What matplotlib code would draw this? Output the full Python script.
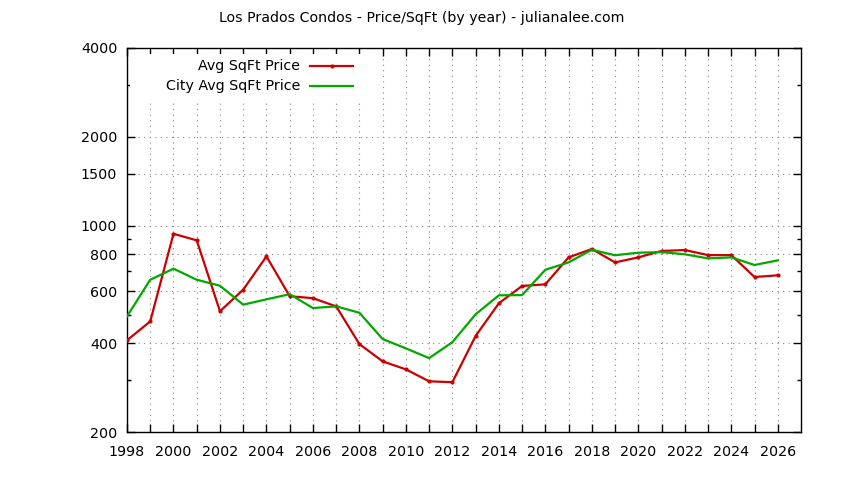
import matplotlib
matplotlib.use('Agg')
import matplotlib.pyplot as plt
from matplotlib.ticker import FixedLocator, NullFormatter, FixedFormatter
from matplotlib.patches import Rectangle

# Dados
anos = list(range(1998, 2027))
preco_medio = [409, 474, 939, 892, 513, 607, 787, 577, 568, 533, 397, 347, 326, 297,
               295, 423, 546, 625, 633, 781, 834, 751, 781, 821, 827, 795, 795, 670, 679]
preco_cidade = [493, 656, 715, 656, 626, 540, 563, 586, 526, 533, 507, 413, 384, 356,
                403, 501, 581, 582, 709, 751, 829, 794, 810, 814, 800, 775, 781, 736, 763]

y_ticks = [200, 400, 600, 800, 1000, 1500, 2000, 4000]
y_minor = [300, 500, 700, 900, 3000]
x_ticks = list(range(1998, 2027, 2))

vermelho = '#cc0000'
verde = '#00a800'

plt.rcParams['font.family'] = 'DejaVu Sans'
plt.rcParams['font.size'] = 10

fig = plt.figure(figsize=(8.44, 4.8), dpi=100)
ax = fig.add_axes([127 / 844, 48 / 480, 674 / 844, 384 / 480])

ax.plot(anos, preco_medio, color=vermelho, lw=1.6, marker='o', ms=2, zorder=3)
ax.plot(anos, preco_cidade, color=verde, lw=1.6, zorder=3)

ax.set_yscale('log')
ax.set_ylim(200, 4000)
ax.set_xlim(1998, 2027)

ax.yaxis.set_major_locator(FixedLocator(y_ticks))
ax.yaxis.set_major_formatter(FixedFormatter([str(v) for v in y_ticks]))
ax.yaxis.set_minor_locator(FixedLocator(y_minor))
ax.yaxis.set_minor_formatter(NullFormatter())
ax.xaxis.set_major_locator(FixedLocator(x_ticks))
ax.xaxis.set_major_formatter(FixedFormatter([str(v) for v in x_ticks]))
ax.xaxis.set_minor_locator(FixedLocator(anos))

ax.tick_params(which='both', direction='in', top=True, right=True, width=1, color='black')
ax.tick_params(axis='x', which='both', length=5.8, pad=9)
ax.tick_params(axis='y', which='major', length=5.8, pad=7)
ax.tick_params(axis='y', which='minor', length=2.9)
ax.tick_params(labelsize=10.3)

ax.grid(True, axis='x', which='both', linestyle=(0, (1, 4)), color='#888888', lw=0.8)
ax.grid(True, axis='y', which='major', linestyle=(0, (1, 4)), color='#888888', lw=0.8)

for s in ax.spines.values():
    s.set_linewidth(1.0)

# Legenda estilo gnuplot (texto alinhado à direita, fundo opaco)
ax.add_patch(Rectangle((0.005, 0.865), 0.345, 0.12, transform=ax.transAxes,
                       facecolor='white', edgecolor='none', zorder=2.5))
ax.text(0.257, 0.953, 'Avg SqFt Price', transform=ax.transAxes, ha='right', va='center',
        fontsize=10.3, zorder=4)
ax.text(0.257, 0.901, 'City Avg SqFt Price', transform=ax.transAxes, ha='right', va='center',
        fontsize=10.3, zorder=4)
ax.plot([0.272, 0.335], [0.953, 0.953], transform=ax.transAxes, color=vermelho, lw=1.6, zorder=4)
ax.plot([0.3035], [0.953], transform=ax.transAxes, color=vermelho, marker='o', ms=2, zorder=4)
ax.plot([0.272, 0.335], [0.901, 0.901], transform=ax.transAxes, color=verde, lw=1.6, zorder=4)

fig.text(422 / 844, 1 - 18 / 480, 'Los Prados Condos - Price/SqFt (by year) - julianalee.com',
         ha='center', va='center', fontsize=10.2)

fig.savefig('out.png', dpi=100)
